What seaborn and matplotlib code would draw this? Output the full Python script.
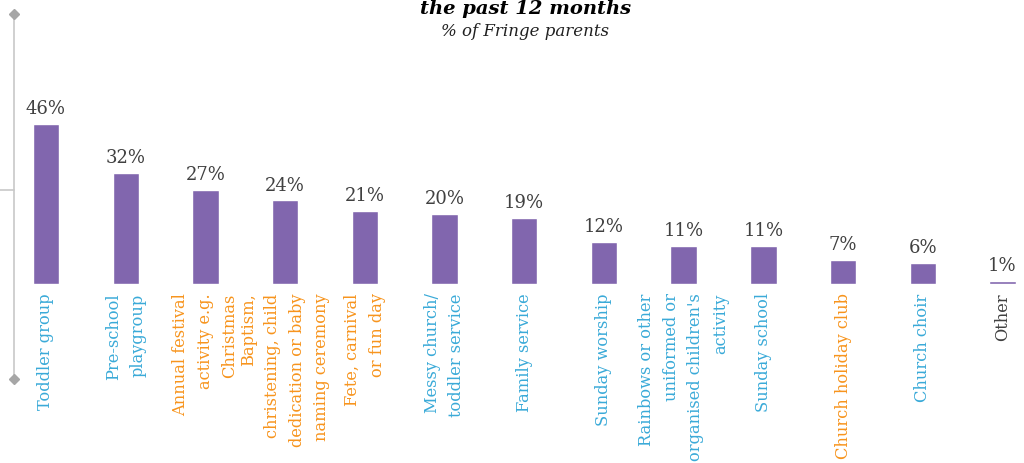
import matplotlib
matplotlib.use("Agg")
import matplotlib.pyplot as plt
from matplotlib.lines import Line2D
import seaborn as sns
import pandas as pd

categories = [
    "Toddler group",
    "Pre-school\nplaygroup",
    "Annual festival\nactivity e.g.\nChristmas",
    "Baptism,\nchristening, child\ndedication or baby\nnaming ceremony",
    "Fete, carnival\nor fun day",
    "Messy church/\ntoddler service",
    "Family service",
    "Sunday worship",
    "Rainbows or other\nuniformed or\norganised children's\nactivity",
    "Sunday school",
    "Church holiday club",
    "Church choir",
    "Other",
]
values = [46, 32, 27, 24, 21, 20, 19, 12, 11, 11, 7, 6, 1]
groups = ["blue", "blue", "orange", "orange", "orange", "blue", "blue",
          "blue", "blue", "blue", "orange", "blue", "grey"]

label_colours = {"blue": "#3AAAD8", "orange": "#F7941D", "grey": "#404040"}
bar_colour = "#8166AE"

sns.set_theme(style="white")
plt.rcParams["font.family"] = ["DejaVu Serif"]

df = pd.DataFrame({"activity": categories, "pct": values})

fig = plt.figure(figsize=(10.24, 4.64), dpi=100)
ax = fig.add_axes([0.0, 0.3858, 1.0, 0.375])

sns.barplot(data=df, x="activity", y="pct", color=bar_colour,
            width=0.33, saturation=1, ax=ax)

ax.set_xlim(-0.577, 12.27)
ax.set_ylim(0, 50)
ax.set_xlabel("")
ax.set_ylabel("")
ax.set_yticks([])
sns.despine(ax=ax, left=True, bottom=True)

ax.bar_label(ax.containers[0], labels=[f"{v}%" for v in values],
             padding=5, fontsize=13, color="#404040")

ax.tick_params(axis="x", length=0, pad=6)
ax.set_xticks(range(len(categories)))
ax.set_xticklabels(categories, rotation=90, fontsize=11.7)
for lbl, g in zip(ax.get_xticklabels(), groups):
    lbl.set_color(label_colours[g])
    lbl.set_multialignment("right")
    lbl.set_linespacing(1.58)

# title block
fig.text(0.513, 1 - 14 / 464, "the past 12 months", ha="center", va="baseline",
         fontsize=14, fontweight="bold", fontstyle="italic", color="black")
fig.text(0.513, 1 - 36 / 464, "% of Fringe parents", ha="center", va="baseline",
         fontsize=12, fontstyle="italic", color="#202020")

# left-hand connector bracket
W, H = 1024, 464
line_c = "#C8C8C8"
fig.add_artist(Line2D([14 / W, 14 / W], [1 - 15 / H, 1 - 380 / H],
                      color=line_c, lw=1.2))
fig.add_artist(Line2D([0, 14 / W], [1 - 191 / H, 1 - 191 / H],
                      color=line_c, lw=1.2))
fig.add_artist(Line2D([14 / W, 14 / W], [1 - 15 / H, 1 - 380 / H],
                      color="#A6A6A6", lw=0, marker="D", markersize=5))

fig.savefig("out.png", dpi=100)
